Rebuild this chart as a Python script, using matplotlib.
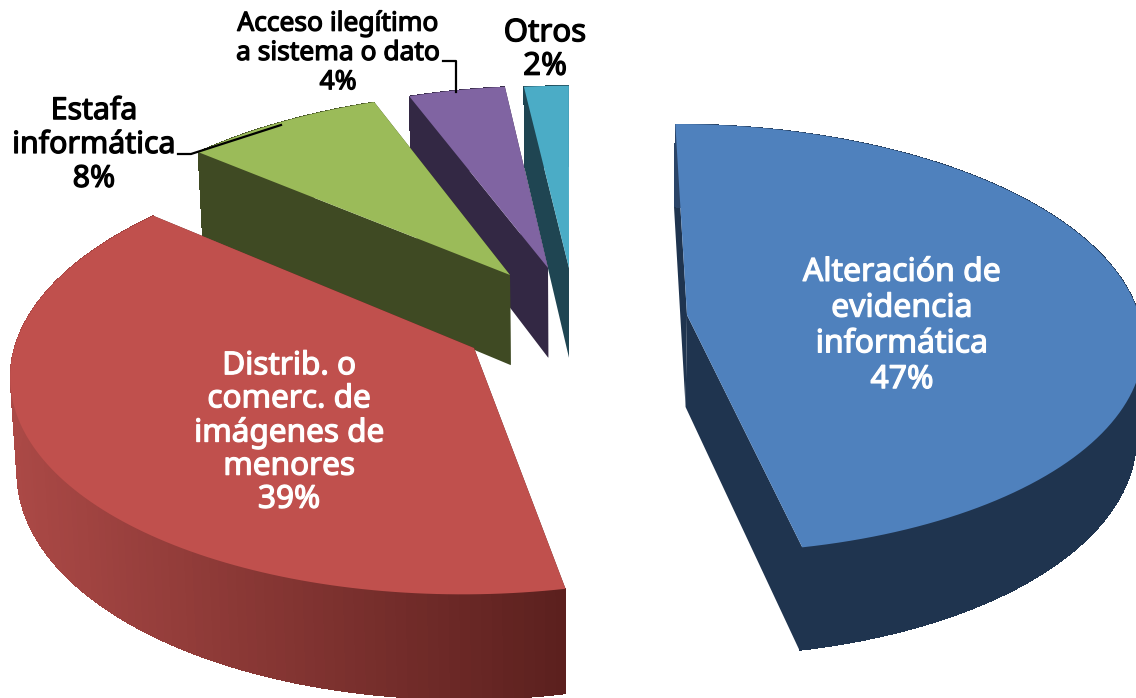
import numpy as np
import matplotlib
matplotlib.use('Agg')
import matplotlib.pyplot as plt
import matplotlib.patheffects as pe
from matplotlib.patches import Polygon
from matplotlib.colors import to_rgb

# porcentajes del grafico
categories = ['Alteración de\nevidencia\ninformática', 'Distrib. o\ncomerc. de\nimágenes de\nmenores',
              'Estafa\ninformática', 'Acceso ilegítimo\na sistema o dato', 'Otros']
values = [46.8, 39.4, 8.1, 3.9, 1.8]
pct_labels = ['47%', '39%', '8%', '4%', '2%']

top_colors = ['#4F81BD', '#C0504D', '#9BBB59', '#8064A2', '#4BACC6']
wall_left = {0: '#2A4568', 1: '#AB4946'}
wall_right = {0: '#1F344F', 1: '#5B201E'}
flat_side = {2: '#3F4A23', 3: '#332844', 4: '#1F4552'}

# centro de cada porcion en pantalla (explosion del pie)
centers = [(687, 315), (474, 348), (510, 275), (548, 268), (569, 268)]

# perspectiva
VX, VY = 568, -1628
BB, KK, AA = 1943, 0.109, 452
DEPTH = 92
SQUEEZE = 0.012


def project(wx, wy):
    w = 1 + KK * wy
    return VX + AA * wx / w, VY + BB / w


def drop(x, y, wy):
    w = 1 + KK * wy
    return x + (VX - x) * SQUEEZE, y + DEPTH / w


def unproject(x, y):
    w = BB / (y - VY)
    return (x - VX) * w / AA, (w - 1) / KK


fig = plt.figure(figsize=(11.36, 6.98), dpi=100)
ax = fig.add_axes([0, 0, 1, 1])
ax.set_xlim(0, 1136)
ax.set_ylim(698, 0)
ax.axis('off')

edges = np.cumsum([0] + values) / sum(values) * 2 * np.pi

# de atras hacia adelante
for i in [4, 3, 2, 1, 0]:
    c0, c1 = unproject(*centers[i])
    t = np.linspace(edges[i], edges[i + 1], 120)
    wx = c0 + np.sin(t)
    wy = c1 + np.cos(t)
    x, y = project(wx, wy)
    bx, by = drop(x, y, wy)
    cx, cy = project(c0, c1)
    cbx, cby = drop(cx, cy, c1)
    side = wall_right.get(i, flat_side.get(i))
    # caras radiales
    ax.add_patch(Polygon([(cx, cy), (x[0], y[0]), (bx[0], by[0]), (cbx, cby)], fc=side, ec='none', zorder=10 - i))
    ax.add_patch(Polygon([(cx, cy), (x[-1], y[-1]), (bx[-1], by[-1]), (cbx, cby)], fc=side, ec='none', zorder=10 - i))
    # pared exterior, con degradado en tiras
    for j in range(len(t) - 1):
        if i in wall_left:
            f = (0.5 * (bx[j] + bx[j + 1]) - bx.min()) / (bx.max() - bx.min())
            if i == 0:
                f = min(1, f * 3.5)
            col = np.array(to_rgb(wall_left[i])) * (1 - f) + np.array(to_rgb(wall_right[i])) * f
        else:
            col = side
        ax.add_patch(Polygon([(x[j], y[j]), (x[j + 1], y[j + 1]), (bx[j + 1], by[j + 1]), (bx[j], by[j])],
                             fc=col, ec='none', antialiased=False, zorder=10 - i))
    # cara superior
    ax.add_patch(Polygon(np.vstack([[cx, cy], np.column_stack([x, y])]), fc=top_colors[i], ec='none', zorder=10.5 - i))


def label(px, py, i, color, size, spacing):
    # Noto Sans solo tiene peso normal aqui, el trazo hace de negrita
    ax.text(px, py, categories[i] + '\n' + pct_labels[i], color=color, fontsize=size, linespacing=spacing,
            family='Noto Sans', ha='center', va='center', zorder=20,
            path_effects=[pe.withStroke(linewidth=0.9, foreground=color)])


label(902, 326, 0, 'white', 23, 1.11)
label(289, 433, 1, 'white', 22.7, 1.135)
label(94, 145, 2, 'black', 21.8, 1.17)
label(338, 53, 3, 'black', 19, 1.06)
label(545, 50, 4, 'black', 22.5, 1.15)

# lineas guia
ax.plot([178, 191, 281], [154, 154, 125], color='black', lw=1.6, zorder=21)
ax.plot([443, 456, 456], [61, 61, 92], color='black', lw=1.6, zorder=21)

fig.savefig('out.png', dpi=100, facecolor='white')
